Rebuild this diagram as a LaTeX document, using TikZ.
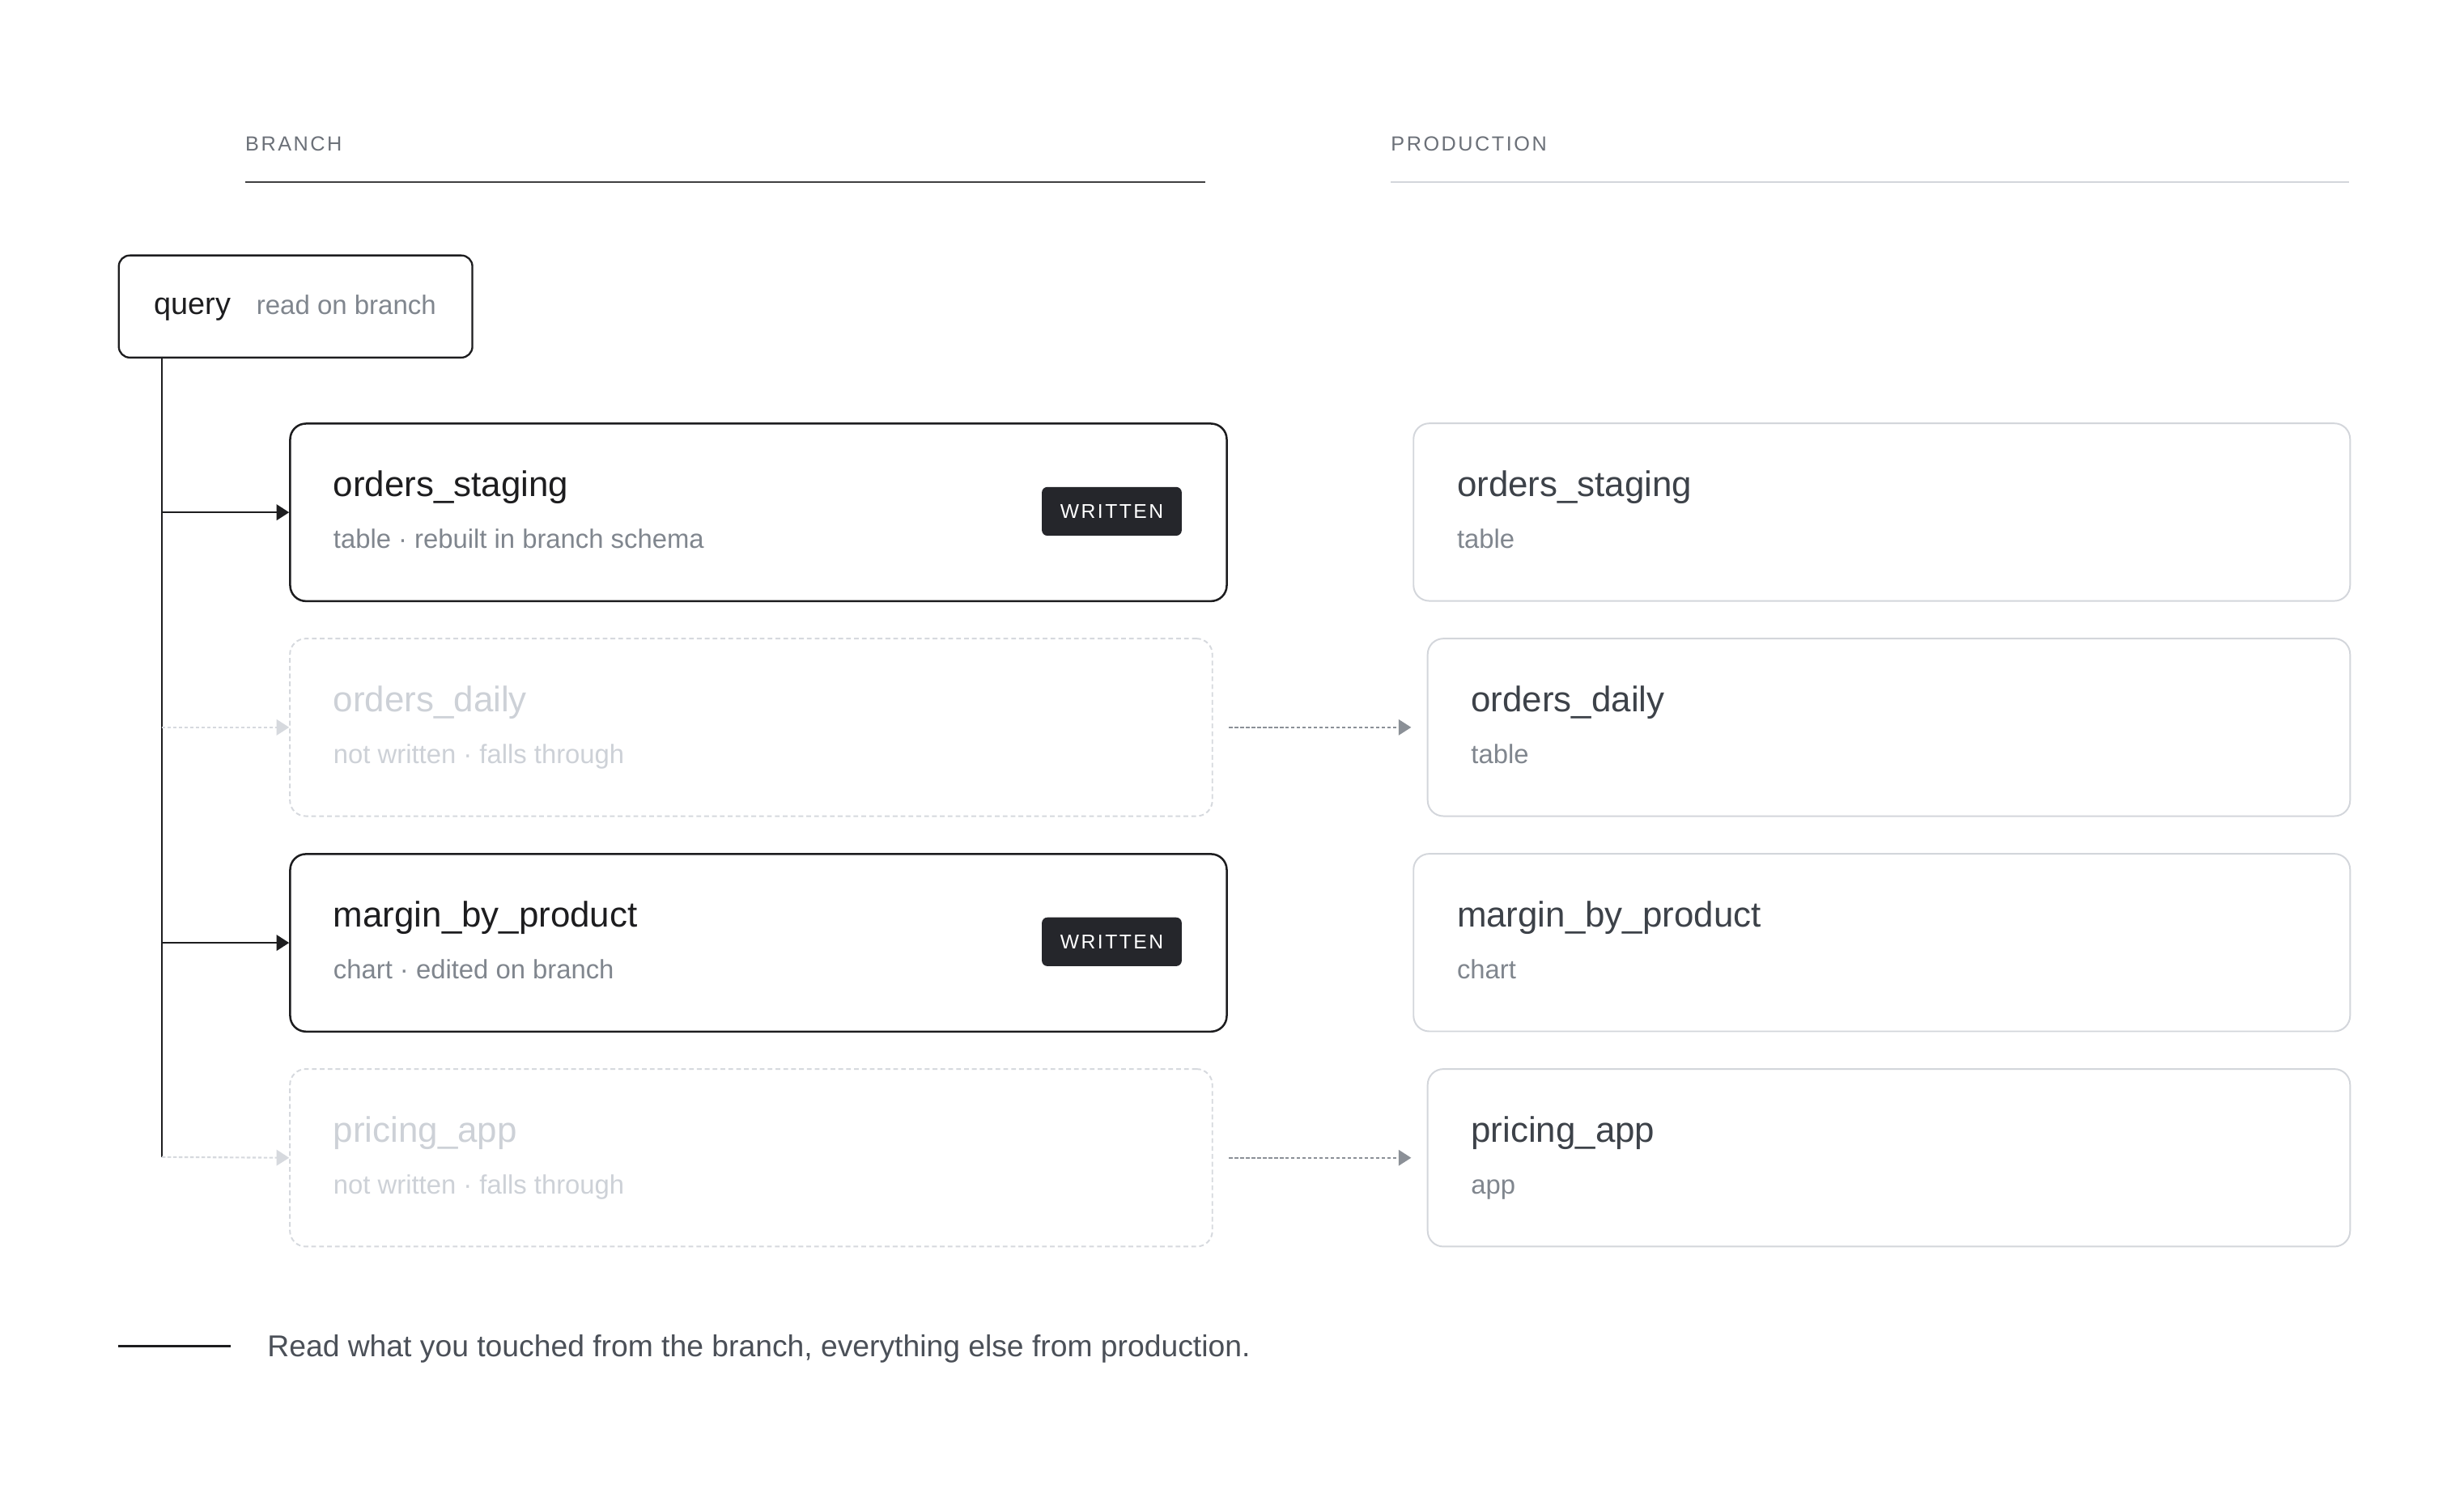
\documentclass[tikz,border=0pt]{standalone}
\usepackage{fontspec}
\setmainfont{Liberation Sans}
\newfontfamily\titlefont{Liberation Sans}
\newfontfamily\capsfont[LetterSpace=10]{Liberation Sans}
\usetikzlibrary{arrows.meta}
\definecolor{ink}{HTML}{1D1D1F}
\definecolor{prodink}{HTML}{3D4249}
\definecolor{subink}{HTML}{80868E}
\definecolor{ghostink}{HTML}{CDD1D7}
\definecolor{ghostline}{HTML}{D6D9DE}
\definecolor{lightline}{HTML}{D3D6DB}
\definecolor{midgrey}{HTML}{8B9097}
\definecolor{badgefill}{HTML}{25262B}
\definecolor{hdrink}{HTML}{6B7078}
\definecolor{legendink}{HTML}{4B5058}
\tikzset{
  brbox/.style={draw=ink, line width=1.3pt, rounded corners=10pt, anchor=north west, minimum height=113pt, inner sep=0pt},
  prbox/.style={draw=lightline, line width=1pt, rounded corners=10pt, anchor=north west, minimum height=113pt, inner sep=0pt},
  ghbox/.style={draw=ghostline, line width=1pt, dash pattern=on 3pt off 2pt, rounded corners=10pt, anchor=north west, minimum height=113pt, inner sep=0pt},
  qbox/.style={draw=ink, line width=1.2pt, rounded corners=7pt, anchor=north west, minimum width=225pt, minimum height=65pt, inner sep=0pt},
  ttl/.style={anchor=base west, inner sep=0pt, font=\titlefont\fontsize{22.6}{26}\selectfont},
  sub/.style={anchor=base west, inner sep=0pt, text=subink, font=\fontsize{16.9}{20}\selectfont},
  badge/.style={fill=badgefill, text=white, rounded corners=3.5pt, minimum width=89pt, minimum height=31pt, inner sep=0pt, font=\capsfont\fontsize{12.7}{15}\selectfont},
  hdr/.style={anchor=base west, inner sep=0pt, text=hdrink, font=\capsfont\fontsize{13}{15}\selectfont},
  tipshape/.style={-{Triangle[length=8pt,width=10pt]}},
  solidarrow/.style={draw=ink, line width=1.2pt, tipshape},
  ghostarrow/.style={draw=ghostline, line width=1.1pt, dash pattern=on 2.3pt off 1.3pt, tipshape},
  midarrow/.style={draw=midgrey, line width=1.1pt, dash pattern=on 2.3pt off 1.3pt, tipshape},
}
\begin{document}
\begin{tikzpicture}[x=1pt,y=-1pt]
\useasboundingbox[fill=white] (0,0) rectangle (1568,949.9);

% headers
\node[hdr] (hbranch) at (156,96) {BRANCH};
\coordinate (hb1) at (156,116);
\coordinate (hb2) at (767,116);
\draw[draw=ink!85, line width=1.3pt] (hb1) -- (hb2);
\node[hdr] (hprod) at (885,96) {PRODUCTION};
\coordinate (hp1) at (885,116);
\coordinate (hp2) at (1495,116);
\draw[draw=lightline, line width=1.3pt] (hp1) -- (hp2);

% query
\node[qbox] (query) at (75,162) {};
\node[anchor=base west, inner sep=0pt, text=ink, font=\titlefont\fontsize{19.5}{23}\selectfont] (queryT) at (98,200) {query};
\node[anchor=base west, inner sep=0pt, text=subink, font=\fontsize{17}{20}\selectfont] (queryS) at (163,200) {read on branch};

% branch column
\node[brbox, minimum width=596pt] (bs) at (184,269) {};
\node[ttl, text=ink] (bsT) at (212,316) {orders\_staging};
\node[sub] (bsS) at (212,349) {table · rebuilt in branch schema};
\node[badge] (bsB) at (707.5,325.5) {WRITTEN};

\node[ghbox, minimum width=587pt] (bd) at (184,406) {};
\node[ttl, text=ghostink] (bdT) at (212,453) {orders\_daily};
\node[sub, text=ghostink] (bdS) at (212,486) {not written · falls through};

\node[brbox, minimum width=596pt] (bm) at (184,543) {};
\node[ttl, text=ink] (bmT) at (212,590) {margin\_by\_product};
\node[sub] (bmS) at (212,623) {chart · edited on branch};
\node[badge] (bmB) at (707.5,599.5) {WRITTEN};

\node[ghbox, minimum width=587pt] (bp) at (184,680) {};
\node[ttl, text=ghostink] (bpT) at (212,727) {pricing\_app};
\node[sub, text=ghostink] (bpS) at (212,760) {not written · falls through};

% production column
\node[prbox, minimum width=596pt] (ps) at (899,269) {};
\node[ttl, text=prodink] (psT) at (927,316) {orders\_staging};
\node[sub] (psS) at (927,349) {table};

\node[prbox, minimum width=587pt] (pd) at (908,406) {};
\node[ttl, text=prodink] (pdT) at (936,453) {orders\_daily};
\node[sub] (pdS) at (936,486) {table};

\node[prbox, minimum width=596pt] (pm) at (899,543) {};
\node[ttl, text=prodink] (pmT) at (927,590) {margin\_by\_product};
\node[sub] (pmS) at (927,623) {chart};

\node[prbox, minimum width=587pt] (pp) at (908,680) {};
\node[ttl, text=prodink] (ppT) at (936,727) {pricing\_app};
\node[sub] (ppS) at (936,760) {app};

% trunk and connectors
\coordinate (trTop) at (103,227);
\coordinate (trBot) at (103,736.5);
\draw[draw=ink, line width=1.2pt] (trTop) -- (trBot);
\draw[solidarrow] (trTop |- bs.west) -- (bs.west);
\draw[solidarrow] (trTop |- bm.west) -- (bm.west);
\draw[ghostarrow] (trTop |- bd.west) -- (bd.west);
\draw[ghostarrow] (trBot) -- (bp.west);
\draw[midarrow] ([xshift=10pt]bd.east) -- ([xshift=-10pt]pd.west);
\draw[midarrow] ([xshift=10pt]bp.east) -- ([xshift=-10pt]pp.west);

% legend
\coordinate (lg1) at (75,857);
\coordinate (lg2) at (147,857);
\draw[draw=ink, line width=1.3pt] (lg1) -- (lg2);
\node[anchor=base west, inner sep=0pt, text=legendink, font=\fontsize{19.2}{23}\selectfont] (legendT) at (170,863.5) {Read what you touched from the branch, everything else from production.};
\end{tikzpicture}
\end{document}
